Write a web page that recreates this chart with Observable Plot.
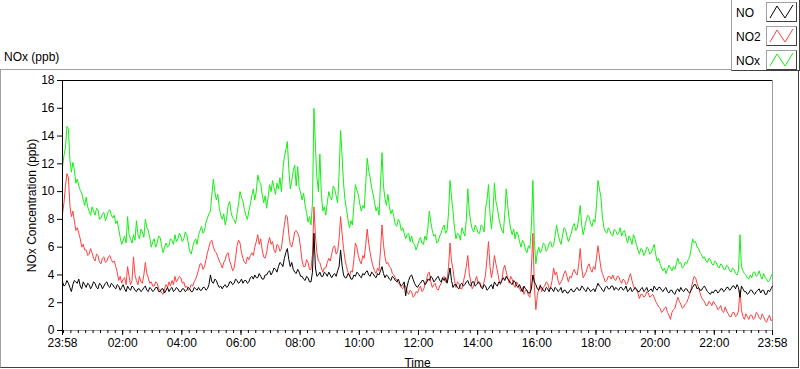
<!DOCTYPE html>
<html><head><meta charset="utf-8">
<script src="https://cdn.jsdelivr.net/npm/d3@7"></script>
<script src="https://cdn.jsdelivr.net/npm/@observablehq/plot@0.6"></script>
<style>
body{margin:0;background:#fff;font-family:"Liberation Sans",Arial,sans-serif;color:#000;}
#wrap{position:relative;width:800px;height:369px;overflow:hidden;background:#fff;}
#frame{position:absolute;left:0;top:69px;width:797px;height:297px;border-left:1px solid #a0a0a0;border-top:1px solid #a0a0a0;border-right:1px solid #404040;border-bottom:1px solid #404040;}
#chart{position:absolute;left:0;top:0;}
#title{position:absolute;left:4px;top:50px;font-size:12px;line-height:14px;}
#legend{position:absolute;left:731px;top:0;width:67px;height:70px;background:#fff;border-left:1px solid #a0a0a0;border-bottom:1px solid #404040;border-right:1px solid #404040;}
.item{position:absolute;left:4px;font-size:12px;line-height:14px;}
.sw{position:absolute;left:34px;width:29px;height:18px;border-top:1px solid #a0a0a0;border-left:1px solid #a0a0a0;border-right:1px solid #404040;border-bottom:1px solid #404040;background:#fff;}
.sw svg{position:absolute;left:0;top:0;}
</style></head><body>
<div id="wrap">
  <div id="frame"></div>
  <div id="title">NOx (ppb)</div>
  <div id="chart"></div>
  <div id="legend"></div>
</div>
<script>
// ---- data (3-minute readings, 23:58 -> 23:58 next day) ----
const seriesNames = ["NO", "NO2", "NOx"];
const seriesColors = ["#000000", "#ff4040", "#12f012"];
const startTime = "2000-01-01T23:58:00Z";
const stepMinutes = 3;
const yTicks = [0, 2, 4, 6, 8, 10, 12, 14, 16, 18];
const xTickLabels = ["23:58", "02:00", "04:00", "06:00", "08:00", "10:00", "12:00", "14:00", "16:00", "18:00", "20:00", "22:00", "23:58"];

const nox = [
11.8,12.6,13.2,14.7,14.5,12.3,11.4,12.1,11.6,10.6,10.9,10.4,10.1,9.9,9.4,9.0,9.6,8.9,8.6,8.3,
8.9,8.6,8.3,8.8,8.7,8.0,8.1,8.4,8.5,7.9,8.2,8.6,8.7,8.3,8.1,8.3,7.7,7.9,7.3,6.7,
6.2,6.5,6.8,6.3,8.2,6.9,6.6,6.3,6.9,6.5,7.9,6.9,6.6,7.3,7.1,6.7,8.0,7.4,7.2,6.7,
6.0,6.4,6.6,6.0,6.3,6.8,6.7,6.1,5.6,6.0,6.3,6.0,6.1,6.6,6.5,6.2,6.9,6.4,6.6,7.0,
6.8,6.4,6.6,7.1,6.9,6.3,5.7,5.5,6.0,6.4,6.6,6.2,6.9,7.2,7.5,7.0,7.2,7.8,8.1,8.4,
8.6,9.8,10.9,10.0,9.4,9.8,8.8,8.3,8.0,8.4,7.6,8.1,9.0,9.3,8.5,8.1,8.0,7.7,8.4,9.1,
10.0,9.6,9.3,8.7,8.3,8.0,8.6,9.1,9.7,10.2,9.4,10.0,11.2,10.7,10.6,9.8,9.2,9.7,8.8,9.6,
10.5,10.0,10.8,10.3,9.8,10.6,10.2,11.0,10.0,11.6,12.5,13.0,13.6,11.6,10.2,10.8,11.5,11.9,10.4,11.8,
10.3,9.9,9.4,9.9,9.0,8.5,7.8,8.2,7.6,9.2,16.0,13.2,11.0,10.0,12.7,9.8,8.6,8.9,8.3,9.2,
10.0,9.6,9.4,10.4,10.2,9.7,9.2,11.3,14.4,12.6,10.6,9.4,8.7,8.0,7.4,7.9,7.6,9.0,10.5,10.1,
9.8,9.1,8.6,9.0,8.8,10.6,12.4,11.5,11.0,10.3,9.8,9.2,8.6,8.9,8.3,10.6,12.8,10.4,9.5,9.0,
9.8,8.9,8.4,8.7,8.2,7.6,7.5,8.0,7.8,7.2,7.4,7.0,6.6,6.9,7.0,6.4,6.8,6.3,6.2,5.8,
6.1,6.5,6.7,6.3,6.2,6.8,6.5,7.4,8.6,7.8,7.2,6.8,6.9,6.3,6.4,6.8,7.0,7.4,7.6,7.0,
7.2,8.5,10.8,9.6,8.6,7.4,6.6,7.0,6.9,6.5,7.4,7.1,6.8,8.0,10.2,8.6,7.8,7.3,7.1,7.6,
7.4,7.0,7.0,7.6,7.5,7.1,8.8,9.4,10.5,8.4,7.3,8.5,10.6,9.3,8.8,8.1,7.6,7.2,7.0,8.4,
10.2,9.0,8.0,7.3,6.9,7.3,6.6,7.1,6.9,6.4,6.0,6.5,6.3,5.8,5.6,6.1,5.9,7.5,10.8,6.5,
4.8,5.6,6.0,5.6,5.8,6.3,6.2,5.7,5.9,6.3,6.4,6.0,6.1,6.8,7.6,7.0,6.5,6.2,6.8,7.4,
7.3,6.8,6.4,6.7,7.0,7.5,7.7,7.2,7.4,8.1,9.0,7.6,6.9,7.4,7.9,8.3,8.2,7.7,7.5,8.0,
7.8,9.0,10.8,10.2,9.6,8.2,7.4,7.1,7.0,7.4,7.2,6.9,6.8,7.3,7.2,6.9,7.0,7.4,6.8,7.1,
7.2,6.7,6.3,6.8,6.6,6.2,6.9,6.6,6.2,5.8,5.5,5.9,5.8,5.4,5.6,6.0,5.9,5.5,5.6,5.9,
6.2,5.5,5.0,5.2,4.8,4.5,4.3,4.5,4.1,4.4,4.7,4.5,4.3,4.6,4.4,4.8,5.2,4.8,4.9,4.5,
4.6,4.9,4.8,5.1,5.3,5.9,6.6,6.3,6.4,6.0,5.9,5.6,5.5,5.2,5.3,5.0,4.9,5.2,5.1,4.8,
4.7,5.0,4.9,4.6,4.5,4.8,4.7,4.4,4.4,4.7,4.6,4.3,4.2,4.5,4.4,4.1,4.0,4.3,6.9,4.6,
4.3,4.1,4.0,3.8,3.7,4.0,3.8,4.2,4.2,3.9,4.0,4.3,3.9,3.7,4.1,3.8,3.7,3.5,3.6,3.9,
4.1];

const no2 = [
8.4,9.2,10.4,11.3,11.0,9.0,8.2,8.6,7.9,7.2,7.4,7.0,6.6,6.0,6.2,5.8,5.8,5.4,5.5,5.9,
5.6,5.2,5.0,5.5,5.4,4.9,4.8,5.2,5.3,4.9,5.0,5.3,5.4,5.1,4.9,5.0,4.6,4.2,3.6,3.9,
3.4,3.7,3.8,3.3,4.6,3.9,3.3,3.6,5.3,4.0,3.6,3.3,3.9,3.5,3.4,4.0,4.9,4.1,3.8,3.4,
3.5,3.2,3.2,3.5,3.4,3.0,2.9,2.7,2.6,3.0,3.3,3.1,3.5,3.2,3.6,3.3,3.9,3.5,3.7,3.9,
3.8,3.4,3.5,3.1,3.2,2.9,3.0,3.3,3.2,3.5,3.7,4.0,4.4,4.8,4.8,4.4,4.6,5.1,5.6,6.0,
6.4,6.5,6.0,5.7,5.6,5.3,5.0,4.8,4.5,4.9,5.1,5.5,5.6,5.0,4.7,4.3,4.5,5.2,6.1,6.5,
6.3,5.6,5.2,4.9,4.8,5.3,5.1,5.4,5.6,5.4,6.0,6.4,6.9,6.2,6.6,5.8,5.3,5.2,5.6,6.3,
6.7,6.2,6.4,5.8,5.6,6.2,6.1,5.7,5.9,6.8,7.6,8.3,8.2,6.9,6.2,6.0,6.5,7.1,7.2,7.0,
6.7,5.9,5.0,4.6,4.6,5.1,4.9,4.4,4.4,5.5,8.9,6.8,5.6,5.0,4.9,4.5,4.2,4.5,4.5,4.9,
5.2,5.0,5.5,6.0,6.1,5.5,5.7,6.6,8.2,7.0,5.9,5.1,4.6,4.2,3.9,4.3,4.2,5.1,6.3,6.0,
5.4,5.0,4.8,5.4,5.2,6.2,7.3,6.3,5.6,5.0,4.6,4.3,4.1,4.5,4.3,5.8,7.6,6.2,5.3,4.8,
4.9,4.6,4.5,4.1,4.0,3.8,3.6,3.4,3.3,3.1,3.0,3.3,3.2,2.8,2.6,2.9,2.8,2.4,2.5,2.8,
2.7,3.0,3.2,2.8,2.9,3.3,3.6,4.1,4.2,3.5,3.1,3.3,3.4,3.0,2.9,3.2,3.4,3.8,3.9,3.5,
3.6,4.6,6.3,5.0,4.4,3.6,3.1,3.5,3.4,3.0,3.0,3.5,4.0,4.6,5.4,4.1,3.5,3.0,3.2,3.6,
3.9,3.4,3.5,3.2,3.1,3.5,4.0,5.2,6.4,4.6,3.8,4.4,5.4,4.8,4.3,3.7,3.3,3.6,4.4,4.7,
4.2,3.8,3.4,3.9,3.7,3.3,3.1,3.5,3.3,3.0,2.8,3.1,2.6,2.9,2.9,2.5,2.4,4.5,7.0,3.2,
1.5,2.5,3.0,3.3,2.8,3.1,3.2,3.5,3.4,3.0,3.1,3.6,4.5,4.0,4.2,3.6,3.3,3.5,3.7,4.1,
4.3,3.9,3.5,3.9,3.8,4.2,4.4,4.1,4.0,4.8,5.9,4.5,3.8,4.0,4.2,4.6,4.8,4.4,4.2,4.6,
4.4,5.2,6.1,5.3,4.5,4.1,3.8,3.5,3.6,3.9,3.9,3.7,4.0,3.7,3.6,3.9,3.9,3.6,3.4,3.7,
3.6,3.3,3.4,3.8,4.1,3.6,3.2,3.0,3.0,2.7,2.3,2.6,2.6,2.4,2.5,2.8,2.7,2.4,2.5,2.6,
2.4,2.1,1.9,1.7,1.6,1.3,1.4,1.6,1.7,1.3,1.1,0.8,1.3,1.5,1.6,2.0,2.4,2.1,1.9,1.6,
1.7,1.9,2.0,2.3,2.6,3.0,3.5,3.9,3.8,3.4,3.1,2.7,2.4,2.2,2.1,1.8,1.8,2.1,2.0,1.8,
2.1,1.9,1.8,1.5,1.6,1.8,1.4,1.3,1.7,1.4,1.2,1.0,1.0,1.3,1.3,1.0,1.1,1.4,2.9,1.5,
1.0,0.8,1.2,1.0,0.8,1.1,1.1,0.8,0.9,1.3,1.2,0.9,0.8,1.2,1.0,0.7,0.6,0.9,1.1,0.7,
0.8];

const no = [
3.5,3.2,3.3,3.6,3.4,3.1,2.8,3.3,3.6,3.5,3.4,3.7,3.2,3.0,3.5,3.3,3.1,3.4,3.3,3.0,
3.2,3.5,3.4,3.1,3.0,3.4,3.3,3.0,3.2,3.4,3.5,3.2,3.1,3.4,3.3,3.1,3.0,3.3,3.2,2.9,
3.1,3.3,3.0,2.8,3.2,3.0,2.9,3.2,3.1,2.9,2.8,3.0,3.0,2.8,2.9,3.1,3.2,2.9,2.8,3.1,
3.0,2.8,2.9,3.1,3.1,2.8,2.8,3.0,3.0,2.7,2.9,3.1,2.8,3.0,3.1,2.8,2.9,3.1,3.0,2.8,
2.8,3.0,3.0,2.8,2.9,3.1,3.0,2.8,2.8,3.1,3.0,2.9,3.1,2.9,2.9,3.1,3.1,2.9,3.0,3.3,
4.0,3.5,3.4,3.7,3.6,3.3,3.1,3.2,3.0,3.2,3.3,3.1,3.2,3.5,3.5,3.3,3.4,3.7,3.6,3.4,
3.5,3.7,3.4,3.6,3.6,3.4,3.5,3.8,3.9,3.7,4.0,3.8,3.8,4.1,3.9,3.7,3.7,4.0,4.0,4.2,
4.3,4.0,4.2,4.5,4.4,4.2,4.6,4.9,4.8,4.6,5.2,5.6,5.9,5.1,4.6,4.9,4.4,4.2,4.1,4.4,
4.2,3.9,3.9,3.7,3.6,3.9,3.8,3.5,3.5,4.2,7.0,4.5,3.9,4.0,4.2,3.9,3.9,4.2,4.1,3.9,
4.2,4.0,3.8,4.0,4.1,3.9,4.3,4.6,5.8,4.7,4.0,3.8,3.8,4.1,4.0,3.7,3.7,4.0,3.9,4.2,
4.1,3.9,3.8,4.1,4.0,4.2,4.3,4.0,3.9,4.2,4.1,3.9,3.8,4.1,4.0,4.3,4.6,4.1,3.8,4.0,
3.9,3.7,3.6,3.9,3.8,3.6,3.5,3.7,3.4,3.2,3.3,3.5,2.5,3.2,3.6,3.9,4.0,3.7,3.4,3.2,
3.1,3.3,3.4,3.6,3.6,3.3,3.4,3.7,3.6,3.9,3.8,3.5,3.6,3.8,3.9,3.6,3.5,3.8,3.6,3.8,
3.4,3.9,4.5,3.6,3.1,3.3,3.3,3.1,3.0,3.3,3.4,3.2,3.3,3.5,3.6,3.3,3.2,3.5,3.5,3.2,
3.3,3.5,3.4,3.1,3.0,3.3,3.2,2.9,3.0,3.2,3.3,3.0,3.5,3.3,3.2,3.5,3.4,3.6,3.8,3.6,
3.9,3.7,3.6,3.4,3.3,3.6,3.5,3.2,3.1,3.3,3.0,2.8,3.2,3.0,2.9,2.7,2.7,3.0,4.0,3.5,
3.3,3.0,2.9,3.2,3.1,2.9,2.8,3.1,3.0,2.8,3.1,3.0,2.8,3.1,3.0,2.8,2.9,3.1,2.7,2.9,
2.9,2.7,2.7,2.9,3.0,2.8,2.8,3.0,3.1,2.9,2.9,3.2,3.1,2.9,2.8,3.1,3.0,2.8,2.9,3.0,
2.8,3.1,3.4,3.2,3.1,2.9,2.8,3.1,3.2,3.0,3.0,3.2,3.2,2.9,3.1,3.0,2.9,3.1,3.1,2.9,
3.0,3.2,2.8,2.9,3.1,2.8,2.9,3.1,3.0,2.8,2.8,3.0,3.1,2.8,2.9,3.1,2.8,2.9,3.0,2.8,
3.2,3.0,2.9,3.1,3.1,2.9,2.8,3.0,3.1,2.8,2.7,2.9,2.9,2.7,2.6,2.9,3.0,2.8,3.1,2.9,
2.8,3.0,3.0,2.8,2.7,2.9,3.1,3.3,3.3,3.0,3.1,2.9,2.9,3.1,3.2,3.0,2.8,2.7,2.6,2.8,
2.7,2.9,2.9,2.7,2.8,3.0,3.0,2.8,2.9,3.1,3.1,2.9,3.0,3.2,3.2,3.0,3.3,3.1,2.4,3.2,
3.0,2.8,2.8,2.6,2.7,2.9,2.9,2.7,2.6,2.8,2.9,3.0,2.7,2.9,2.9,2.6,2.6,2.9,2.8,3.0,
3.2];

// ---- build ----
const t0 = new Date(startTime);
const nPts = Math.min(no.length, no2.length, nox.length);
const times = d3.range(nPts).map(i => new Date(+t0 + i * stepMinutes * 60000));
const tEnd = new Date(+t0 + 24 * 3600000);
const rows = [];
[["NOx", nox], ["NO2", no2], ["NO", no]].forEach(([name, arr]) =>
  times.forEach((t, i) => rows.push({time: t, value: arr[i], series: name})));

const midnight = new Date(+t0 + 2 * 60000);
const majorTicks = xTickLabels.map((lab, i) => {
  if (i === 0) return t0;
  if (i === xTickLabels.length - 1) return tEnd;
  const [hh, mm] = lab.split(":").map(Number);
  return new Date(+midnight + (hh * 60 + mm) * 60000);
});
const minorTicks = d3.utcMinute.every(15).range(midnight, tEnd);
const fmt = d3.utcFormat("%H:%M");

const chart = Plot.plot({
  width: 800, height: 369,
  marginLeft: 62, marginRight: 28, marginTop: 80, marginBottom: 39,
  style: {fontFamily: "'Liberation Sans', Arial, sans-serif", fontSize: "12px", background: "transparent", color: "#000", overflow: "visible"},
  x: {type: "utc", domain: [t0, tEnd]},
  y: {domain: [0, 18]},
  color: {domain: seriesNames, range: seriesColors},
  marks: [
    Plot.ruleY([0], {stroke: "#9a9a9a"}),
    Plot.ruleX([tEnd], {stroke: "#9a9a9a"}),
    Plot.lineY(rows, {x: "time", y: "value", stroke: "series", z: "series", strokeWidth: 1}),
    Plot.ruleY([18], {stroke: "#000"}),
    Plot.ruleX([t0], {stroke: "#000"}),
    Plot.axisY(yTicks, {tickSize: 5, tickPadding: 3, fontSize: 12, label: "NOx Concentration (ppb)", labelAnchor: "center", labelOffset: 35, labelArrow: "none"}),
    Plot.axisX(minorTicks, {tickSize: 3, tickFormat: () => "", label: null}),
    Plot.axisX(majorTicks, {tickSize: 5, tickPadding: 3, fontSize: 12, tickFormat: fmt, label: "Time", labelAnchor: "center", labelOffset: 36, labelArrow: "none"})
  ]
});
document.getElementById("chart").appendChild(chart);

// legend
const legend = document.getElementById("legend");
seriesNames.forEach((name, i) => {
  const lab = document.createElement("div");
  lab.className = "item";
  lab.style.top = (6 + 24 * i) + "px";
  lab.textContent = name;
  legend.appendChild(lab);
  const sw = document.createElement("div");
  sw.className = "sw";
  sw.style.top = (2 + 24 * i) + "px";
  sw.innerHTML = `<svg width="29" height="18"><polyline points="3,15 10,3 18,15 26,2" fill="none" stroke="${seriesColors[i]}" stroke-width="1"/></svg>`;
  legend.appendChild(sw);
});
</script>
</body></html>
